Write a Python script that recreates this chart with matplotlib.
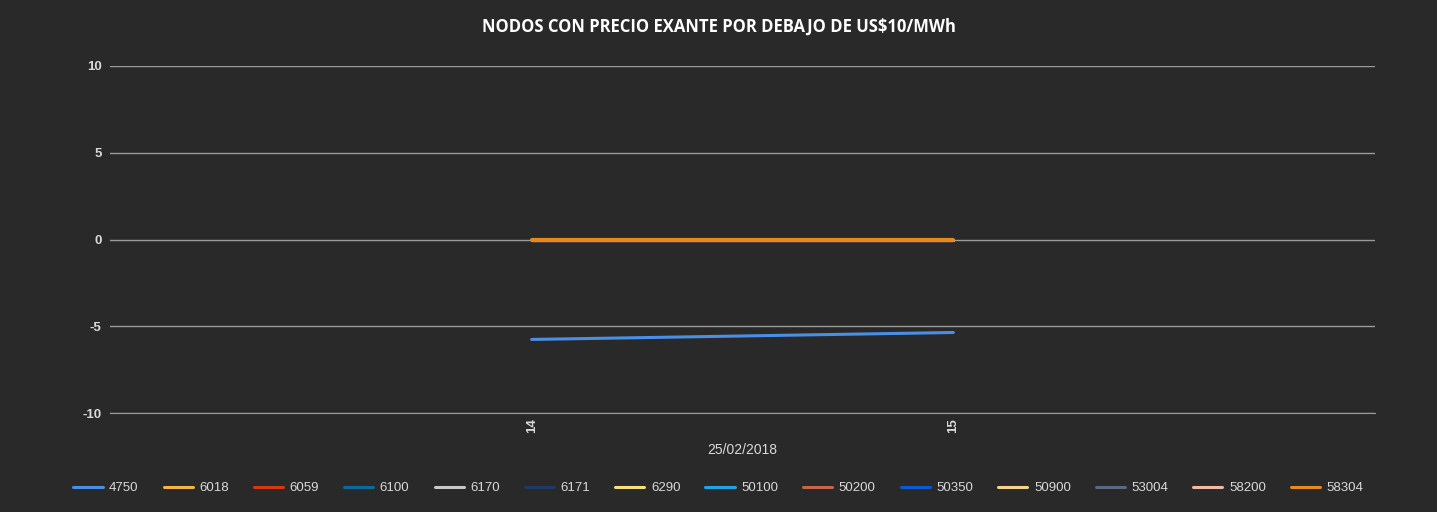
import matplotlib.pyplot as plt
import numpy as np

hours = [14, 15]
nodes = ["4750", "6018", "6059", "6100", "6170", "6171", "6290",
         "50100", "50200", "50350", "50900", "53004", "58200", "58304"]
prices = {
    "4750": [-5.76, -5.36],
    "6018": [0, 0],
    "6059": [0, 0],
    "6100": [0, 0],
    "6170": [0, 0],
    "6171": [0, 0],
    "6290": [0, 0],
    "50100": [0, 0],
    "50200": [0, 0],
    "50350": [0, 0],
    "50900": [0, 0],
    "53004": [0, 0],
    "58200": [0, 0],
    "58304": [0, 0],
}
colours = ["#4a8fe7", "#f5b342", "#d9370e", "#0b6a9a", "#c8c8c8", "#1f3a68", "#f5e07a",
           "#1ea5e6", "#c7654a", "#0a5ad8", "#f3d48a", "#5a6a85", "#f2b8a8", "#e8891b"]

bg = "#292929"
txt = "#d9d9d9"
grid = "#9a9a9a"

plt.rcParams["axes.unicode_minus"] = False
plt.rcParams["font.family"] = ["Liberation Sans", "DejaVu Sans"]

fig = plt.figure(figsize=(14.37, 5.12), dpi=100, facecolor=bg)
ax = fig.add_axes([110/1437, 1 - 413/512, (1375-110)/1437, (413-66)/512])
ax.set_facecolor(bg)

for name, col in zip(nodes, colours):
    lw = 3 if name == "58304" else 2.2
    ax.plot(hours, prices[name], color=col, lw=lw, label=name, solid_capstyle="round")

ax.set_xlim(13, 16)
ax.set_ylim(-10, 10)
ax.set_yticks([-10, -5, 0, 5, 10])
ax.set_xticks(hours)
ax.set_xticklabels([str(h) for h in hours], rotation=90)
ax.yaxis.grid(True, color=grid, lw=1)
ax.set_axisbelow(True)
for s in ["top", "right", "left"]:
    ax.spines[s].set_visible(False)
ax.spines["bottom"].set_color(grid)
ax.tick_params(axis="both", colors=txt, labelsize=9.5, length=0)
for t in ax.get_yticklabels() + ax.get_xticklabels():
    t.set_fontweight("bold")
ax.tick_params(axis="y", pad=6)
ax.tick_params(axis="x", pad=4)
ax.set_xlabel("25/02/2018", color=txt, fontsize=10, labelpad=7)

fig.text(0.5, 1 - 27/512, "NODOS CON PRECIO EXANTE POR DEBAJO DE US$10/MWh",
         ha="center", va="center", color="white", fontsize=12, fontweight="bold",
         family="Open Sans")

leg = fig.legend(loc="center", bbox_to_anchor=(0.5, 1 - 488/512), ncol=len(nodes),
                 frameon=False, fontsize=9.5, handlelength=2.2, columnspacing=1.9,
                 handletextpad=0.5)
for t in leg.get_texts():
    t.set_color(txt)
for h in leg.get_lines():
    h.set_linewidth(2.2)

fig.savefig("out.png", dpi=100, facecolor=bg)
